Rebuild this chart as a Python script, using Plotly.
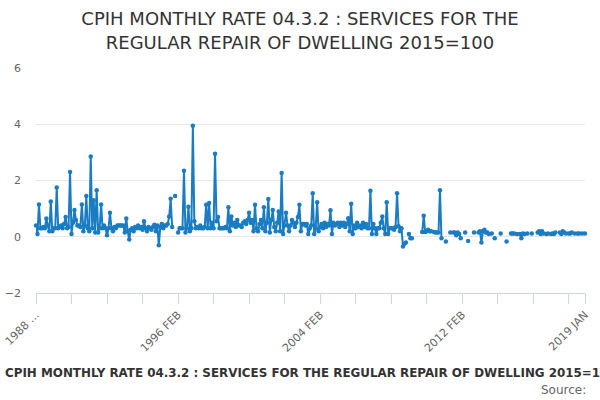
import plotly.graph_objects as go

MONTHS = ["JAN", "FEB", "MAR", "APR", "MAY", "JUN", "JUL", "AUG", "SEP", "OCT", "NOV", "DEC"]
# categories: 1988 FEB .. 2019 JAN
periods = []
y, m = 1988, 1
while (y, m) <= (2019, 0):
    periods.append(f"{y} {MONTHS[m]}")
    m += 1
    if m == 12:
        y, m = y + 1, 0

values = [
    0.4, 0.1, 1.15, 0.3, 0.3, 0.35, 0.3, 0.65, 0.4, 0.2,
    1.25, 0.2, 0.3, 0.3, 1.75, 0.3, 0.35, 0.4, 0.3, 0.45,
    0.7, 0.3, 0.35, 2.3, 0.1, 0.5, 0.95, 0.6, 0.4, 0.4,
    0.35, 1.15, 0.2, 0.4, 1.45, 0.3, 0.2, 2.85, 0.3, 1.3,
    0.15, 1.65, 0.15, 0.3, 1.15, 0.3, 0.4, 0.3, 0.05, 0.3,
    0.85, 0.3, 0.2, 0.35, 0.3, 0.4, 0.4, 0.4, 0.4, 0.4,
    0.15, 0.65, 0.2, -0.1, 0.25, 0.3, 0.2, 0.35, 0.3, 0.4,
    0.3, 0.35, 0.25, 0.55, 0.3, 0.2, 0.35, 0.3, 0.25, 0.35,
    0.43, 0.2, 0.4, -0.3, 0.35, 0.45, 0.3, 0.4, 0.4, 0.45,
    0.72, 1.35, 0.35, None, 1.45, None, 0.15, 0.3, 0.3, 0.3,
    2.35, 0.15, 0.3, 1.07, 0.2, 0.3, 3.95, 0.55, 0.3, 0.35,
    0.3, 0.4, 0.3, 0.3, 0.35, 1.14, 0.3, 1.2, 0.3, 0.5,
    0.3, 2.95, 0.55, 0.7, 0.3, 0.3, 0.3, 0.3, 0.35, 0.3,
    1.05, 0.2, 0.72, 0.4, 0.5, 0.35, 0.6, 0.4, 0.4, 0.35,
    0.5, 0.55, 0.45, 0.6, 0.85, 0.5, 0.6, 0.2, 1.14, 0.3,
    0.2, 0.45, 0.6, 0.3, 1.05, 0.2, 0.5, 1.34, 0.15, 0.6,
    0.95, 0.35, 0.2, 0.5, 0.9, 0.2, 2.27, 0.1, 0.4, 0.85,
    0.4, 0.2, 0.4, 0.6, 0.5, 0.35, 0.5, 0.7, 1.14, 0.2,
    0.45, 0.45, 0.4, 0.45, 0.1, 0.3, 0.4, 1.55, 0.1, 0.3,
    1.23, 0.2, 0.35, 0.45, 0.3, 0.5, 0.35, 0.45, 0.4, 0.94,
    0.1, 0.5, 0.4, 0.45, 0.5, 0.35, 0.5, 0.4, 0.5, 0.35,
    0.45, 0.66, 0.2, 1.17, 0.1, 0.4, 0.3, 0.5, 0.35, 0.4,
    0.3, 0.5, 0.35, 0.45, 0.3, 0.3, 1.64, 0.1, 0.45, 0.3,
    0.1, 0.3, 0.3, 0.5, 0.72, 0.3, 0.1, 1.23, 0.1, 0.3,
    0.3, 0.3, 0.25, 0.35, 1.55, 0.37, 0.2, 0.3, -0.35, -0.25,
    -0.2, None, 0.1, -0.05, -0.05, None, None, None, None, None,
    None, 0.17, 0.75, 0.17, 0.2, 0.25, 0.2, 0.2, None, 0.17,
    0.15, 0.15, 0.15, 1.65, -0.05, None, None, -0.17, None, None,
    0.15, None, 0.15, 0.15, 0.05, 0.15, 0.1, -0.05, None, None,
    0.15, None, -0.15, None, None, None, 0.15, None, None, 0.15,
    0.2, -0.2, 0.2, 0.25, 0.15, 0.15, 0.1, None, 0.12, None,
    -0.05, None, None, None, 0.12, None, None, None, -0.17, None,
    None, 0.12, 0.12, 0.12, None, 0.1, None, 0.1, -0.05, 0.12,
    0.1, None, 0.12, None, None, 0.12, None, None, None, 0.15,
    0.2, 0.1, 0.2, 0.12, None, 0.1, 0.12, None, 0.1, 0.12,
    0.1, 0.15, None, None, 0.15, 0.1, 0.2, 0.15, 0.12, None,
    0.12, 0.12, 0.15, None, 0.12, None, 0.12, 0.12, None, 0.12,
    None, 0.12,
]

tick_idx = list(range(0, len(periods), 24)) + [len(periods) - 1]
tick_vals = [periods[i] for i in tick_idx]
labelled = {"1988 FEB": "1988 …", "1996 FEB": "1996 FEB", "2004 FEB": "2004 FEB",
            "2012 FEB": "2012 FEB", "2019 JAN": "2019 JAN"}
tick_text = [labelled.get(v, "") for v in tick_vals]

y_ticks = [-2, 0, 2, 4, 6]

TITLE = "CPIH MONTHLY RATE 04.3.2 : SERVICES FOR THE<br>REGULAR REPAIR OF DWELLING 2015=100"
FOOT = "CPIH MONTHLY RATE 04.3.2 : SERVICES FOR THE REGULAR REPAIR OF DWELLING 2015=100"

BLUE = "#1a7cc2"

fig = go.Figure(go.Scatter(
    x=periods, y=values, mode="lines+markers",
    line=dict(color=BLUE, width=2),
    marker=dict(color=BLUE, size=4.5),
    connectgaps=False, cliponaxis=False, showlegend=False,
))

fig.update_layout(
    width=600, height=400,
    margin=dict(l=36, r=15, t=68, b=107, autoexpand=False),
    paper_bgcolor="white", plot_bgcolor="white",
    font=dict(family="DejaVu Sans", color="#666666", size=11),
    title=dict(text=TITLE, x=0.5, xanchor="center", xref="container",
               y=0.937, yanchor="top", yref="container", automargin=False,
               font=dict(size=18, color="#333333", family="DejaVu Sans")),
    xaxis=dict(type="category", range=[0, len(periods) - 1], automargin=False,
               tickmode="array", tickvals=tick_vals, ticktext=tick_text,
               tickangle=-45, ticks="outside", ticklen=10, tickcolor="#ccd6eb",
               showline=True, linecolor="#ccd6eb", linewidth=1,
               showgrid=False, zeroline=False,
               tickfont=dict(size=11, color="#666666")),
    yaxis=dict(range=[-2, 6], tickmode="array", tickvals=y_ticks, automargin=False,
               showgrid=True, gridcolor="#e6e6e6", gridwidth=1,
               zeroline=False, showline=False, ticks="",
               ticklabelstandoff=14,
               tickfont=dict(size=11, color="#666666")),
    annotations=[
        dict(text="<b>" + FOOT + "</b>", xref="paper", yref="paper",
             x=-33 / 549, y=(293 - 373) / 225, xanchor="left", yanchor="middle",
             showarrow=False, font=dict(size=11.9, color="#333333")),
        dict(text="Source:", xref="paper", yref="paper",
             x=(588 - 36) / 549, y=(293 - 390) / 225, xanchor="right", yanchor="middle",
             showarrow=False, font=dict(size=12, color="#666666")),
    ],
)

fig.write_html("out.html", config={"displayModeBar": False},
               post_script="document.body.style.margin='0';")
